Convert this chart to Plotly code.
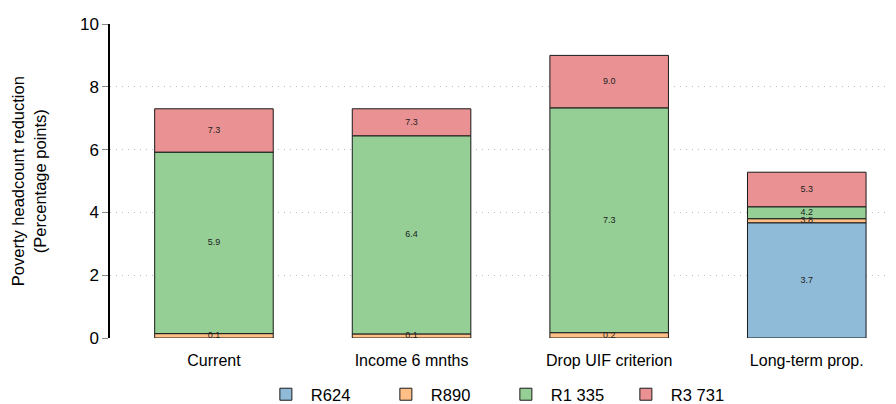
import plotly.graph_objects as go

categories = ["Current", "Income 6 mnths", "Drop UIF criterion", "Long-term prop."]
series_names = ["R624", "R890", "R1 335", "R3 731"]
# cumulative poverty headcount reduction (percentage points) at each threshold
r624 = [0.0, 0.0, 0.0, 3.67]
r890 = [0.14, 0.13, 0.17, 3.8]
r1335 = [5.92, 6.44, 7.33, 4.18]
r3731 = [7.30, 7.30, 9.0, 5.28]
colors = ["#8FBBD9", "#FFBF86", "#95CF95", "#EA9293"]

cumulative = [r624, r890, r1335, r3731]

fig = go.Figure()
prev = [0.0] * len(categories)
tx, ty, tt = [], [], []
for name, vals, col in zip(series_names, cumulative, colors):
    diff = [v - p for v, p in zip(vals, prev)]
    fig.add_trace(go.Bar(
        x=categories, y=diff, base=prev, name=name,
        marker=dict(color=col, line=dict(color="#1a1a1a", width=1)),
        width=0.6, hoverinfo="skip",
    ))
    for c, v, p in zip(categories, vals, prev):
        if v - p > 0:
            tx.append(c)
            ty.append((v + p) / 2)
            tt.append(f"{v:.1f}")
    prev = vals

fig.add_trace(go.Scatter(
    x=tx, y=ty, text=tt, mode="text", showlegend=False,
    textfont=dict(size=9, color="#222222", family="Liberation Sans, Arial"),
    hoverinfo="skip",
))

fig.update_layout(
    barmode="overlay",
    width=896, height=404,
    margin=dict(l=102, r=0, t=16, b=54),
    plot_bgcolor="white", paper_bgcolor="white",
    font=dict(family="Liberation Sans, Arial", size=14, color="black"),
    legend=dict(orientation="h", x=0.19, xanchor="left", y=-0.125, yanchor="top",
                font=dict(size=16.5), itemwidth=40, traceorder="normal",
                entrywidth=65, entrywidthmode="pixels"),
    showlegend=True,
    annotations=[dict(
        text="Poverty headcount reduction<br>(Percentage points)",
        xref="paper", yref="paper", x=-0.103, y=0.5, textangle=-90,
        showarrow=False, font=dict(size=16.5), xanchor="center", yanchor="middle",
    )],
)
fig.update_yaxes(
    range=[0, 10], tickvals=[0, 2, 4, 6, 8, 10], automargin=False,
    showline=True, linecolor="black", linewidth=1.5,
    ticks="outside", ticklen=6, tickcolor="#888888",
    showgrid=True, gridcolor="#bbbbbb", griddash="1px,5px", gridwidth=1,
    zeroline=False, tickfont=dict(size=17),
)
fig.update_xaxes(
    range=[-0.526, 3.492], showline=False, showgrid=False, automargin=False,
    ticks="outside", ticklen=8, tickcolor="rgba(0,0,0,0)",
    tickfont=dict(size=16),
)

fig.write_html("out.html")
